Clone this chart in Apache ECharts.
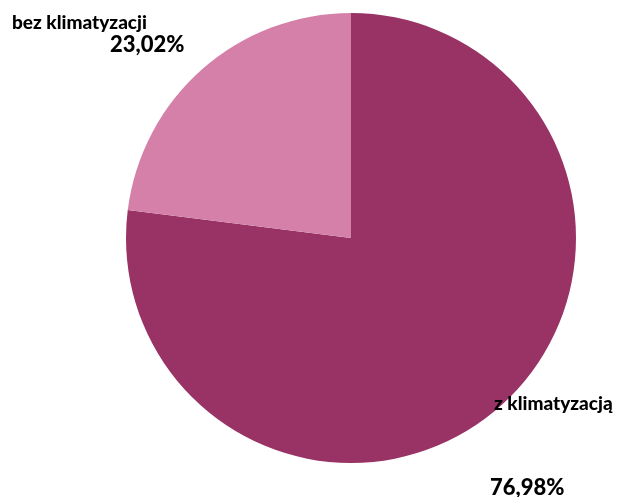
<!DOCTYPE html>
<html><head><meta charset="utf-8">
<script src="https://cdn.jsdelivr.net/npm/echarts@6/dist/echarts.min.js"></script>
<style>html,body{margin:0;padding:0;background:#fff}#c{width:633px;height:497px}</style>
</head><body><div id="c"></div>
<script>
const categories = ['z klimatyzacją', 'bez klimatyzacji'];
const values = [76.98, 23.02];
const colors = ['#993366', '#D580A8'];

const chart = echarts.init(document.getElementById('c'), null, {renderer: 'canvas'});
const fmt = v => v.toFixed(2).replace('.', ',') + '%';
const layouts = [
  {x: 494, y: 392},
  {x: 12, y: 11}
];
chart.setOption({
  animation: false,
  series: [{
    type: 'pie',
    center: [351, 238],
    radius: [0, 225],
    startAngle: 90,
    clockwise: true,
    label: {
      show: true,
      position: 'outside',
      overflow: 'none',
      width: 300,
      formatter: p => '{n|' + p.name + '}\n{p' + p.dataIndex + '|' + fmt(p.value) + '}',
      rich: {
        n: {fontFamily: 'Lato', fontWeight: 900, fontSize: 19, color: '#000', lineHeight: 23},
        p0: {fontFamily: 'Lato', fontWeight: 900, fontSize: 22, color: '#000', lineHeight: 84, padding: [0, 0, 0, -4], verticalAlign: 'bottom'},
        p1: {fontFamily: 'Lato', fontWeight: 900, fontSize: 22, color: '#000', lineHeight: 22, padding: [0, 0, 0, 98]}
      }
    },
    labelLine: {show: false},
    labelLayout: p => ({x: layouts[p.dataIndex].x, y: layouts[p.dataIndex].y, align: 'left', verticalAlign: 'top'}),
    data: categories.map((c, i) => ({name: c, value: values[i], itemStyle: {color: colors[i]}}))
  }]
});
</script></body></html>
